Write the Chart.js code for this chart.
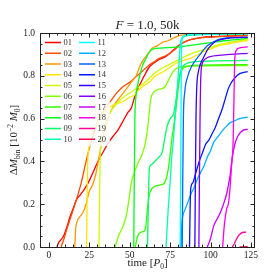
<!DOCTYPE html>
<html lang="en">
<head>
<meta charset="UTF-8">
<title>F = 1.0, 50k</title>
<style>
  html, body { margin: 0; padding: 0; background: #fff; }
  #chart { display: block; }
</style>
</head>
<body>
<canvas id="chart" width="277" height="277"></canvas>
<script src="https://cdn.jsdelivr.net/npm/chart.js"></script>
<script>
// run labels and [time, dM] samples
const names = ['01','02','03','04','05','06','07','08','09','10','11','12','13','14','15','16','17','18','19','20'];

const s01 = [[5,0],[6,0.02],[7,0.03],[9,0.05],[11,0.09],[13,0.14],[15,0.18],[17,0.22],[19,0.24],[22,0.27],[25,0.31],[28,0.36],[31,0.41],[34,0.45],[37,0.49],[40,0.52],[43,0.55],[46,0.59],[49,0.63],[51,0.65],[53,0.7],[55,0.74],[57,0.77],[59,0.8],[62,0.84],[65,0.86],[68,0.875],[71,0.885],[74,0.9],[77,0.92],[80,0.94],[83,0.955],[88,0.97],[95,0.98],[110,0.985],[123,0.988]];
const s02 = [[7.5,0],[9,0.03],[11,0.08],[14,0.15],[17,0.22],[20,0.3],[23,0.4],[26,0.49],[29,0.56],[32,0.61],[35,0.65],[38,0.68],[42,0.72],[46,0.75],[50,0.77],[53,0.79],[56,0.81],[59,0.83],[62,0.85],[65,0.865],[68,0.88],[71,0.89],[75,0.905],[79,0.93],[82,0.95],[86,0.965],[95,0.978],[110,0.985],[123,0.99]];
const s03 = [[16,0],[16.5,0.08],[17.5,0.12],[19,0.14],[21,0.16],[23,0.2],[25,0.26],[27,0.29],[29,0.34],[31,0.42],[33,0.5],[35,0.56],[38,0.63],[41,0.67],[44,0.7],[47,0.73],[50,0.76],[52,0.78],[54,0.8],[56,0.84],[58,0.87],[60,0.89],[62,0.91],[64,0.93],[67,0.94],[70,0.955],[74,0.965],[78,0.98],[82,0.99],[90,0.995],[123,0.995]];
const s04 = [[23.3,0],[23.6,0.2],[24,0.4],[25,0.47],[27,0.53],[30,0.58],[33,0.62],[37,0.65],[42,0.67],[46,0.68],[50,0.7],[53,0.71],[55,0.73],[58,0.75],[62,0.77],[66,0.8],[71,0.82],[75,0.84],[79,0.86],[87,0.88],[95,0.91],[105,0.94],[115,0.955],[123,0.965]];
const s05 = [[31,0],[31.4,0.25],[31.8,0.45],[33,0.52],[35,0.58],[38,0.63],[42,0.67],[46,0.7],[50,0.72],[54,0.74],[58,0.76],[62.5,0.79],[66,0.815],[71,0.84],[75,0.855],[79,0.87],[87,0.9],[95,0.92],[105,0.945],[115,0.96],[123,0.97]];
const s06 = [[41,0],[43,0.05],[46,0.1],[48,0.15],[49.5,0.22],[51,0.3],[53,0.35],[55,0.39],[57.5,0.43],[59.5,0.48],[61,0.55],[62,0.62],[63,0.69],[64.5,0.72],[67,0.735],[70,0.74],[72,0.75],[74,0.78],[76.5,0.815],[79,0.835],[82,0.842],[90,0.845],[123,0.848]];
const s07 = [[53.5,0],[54.5,0.04],[55.5,0.06],[57,0.07],[59,0.075],[60,0.1],[61,0.18],[62,0.24],[63.5,0.27],[66,0.285],[69,0.29],[71.5,0.3],[73,0.33],[74.5,0.4],[76,0.5],[77.5,0.58],[79,0.67],[80,0.74],[81,0.8],[82.5,0.83],[86,0.845],[95,0.85],[123,0.852]];
const s08 = [[52.5,0],[52.8,0.3],[53.2,0.6],[53.8,0.7],[55,0.76],[56.5,0.81],[58,0.85],[60,0.88],[62,0.91],[64,0.925],[70,0.93],[80,0.935],[90,0.945],[100,0.955],[110,0.965],[123,0.975]];
const s09 = [[61,0],[61.4,0.15],[61.8,0.3],[62.2,0.37],[63.5,0.385],[65.5,0.4],[68,0.42],[70,0.44],[71.5,0.5],[73,0.56],[75,0.6],[77,0.62],[78.5,0.68],[80,0.76],[81.5,0.82],[83,0.845],[86,0.86],[95,0.868],[123,0.872]];
const s10 = [[72.5,0],[73.2,0.1],[74,0.2],[75,0.3],[76,0.42],[77,0.5],[78,0.6],[79,0.7],[80,0.8],[80.8,0.9],[81.5,0.96],[83,0.98],[90,0.99],[123,0.995]];
const s11 = [[81.2,0],[81.5,0.3],[81.8,0.7],[82.2,0.95],[83,0.985],[90,0.995],[123,0.998]];
const s12 = [[81.8,0],[82.2,0.1],[82.7,0.14],[84,0.17],[86,0.21],[88,0.25],[90,0.28],[92,0.32],[94,0.35],[96,0.38],[98,0.42],[100,0.45],[102,0.49],[104,0.51],[106,0.53],[108,0.55],[110,0.565],[112,0.58],[115,0.59],[118,0.6],[123,0.607]];
const s13 = [[82.5,0],[82.8,0.3],[83.2,0.6],[84,0.72],[86,0.8],[88,0.84],[90.5,0.87],[93,0.895],[95,0.915],[98,0.94],[101,0.955],[105,0.97],[112,0.978],[123,0.98]];
const s14 = [[87,0],[87.3,0.15],[87.7,0.27],[89,0.3],[91,0.35],[93,0.4],[95,0.44],[97,0.48],[99,0.5],[101,0.53],[103,0.56],[105,0.6],[107,0.64],[109,0.69],[111,0.74],[113,0.77],[115,0.79],[118,0.81],[123,0.82]];
const s15 = [[90.3,0],[90.6,0.3],[91,0.6],[91.5,0.75],[92.5,0.82],[94,0.86],[96,0.89],[98,0.92],[100,0.94],[103,0.96],[107,0.97],[115,0.978],[123,0.98]];
const s16 = [[92.8,0],[93.1,0.3],[93.5,0.6],[94,0.8],[95,0.86],[97,0.88],[100,0.89],[105,0.895],[112,0.9],[123,0.905]];
const s17 = [[98,0],[100,0.04],[102,0.1],[104,0.13],[106,0.16],[108,0.2],[110,0.25],[112,0.33],[113.5,0.42],[115,0.48],[117,0.52],[120,0.545],[123,0.55]];
const s18 = [[107.5,0],[108.5,0.1],[110,0.18],[111,0.2],[112,0.27],[113,0.38],[114,0.5],[114.5,0.7],[115,0.88],[116,0.92],[118,0.93],[123,0.935]];
const s19 = [[113.5,0],[115,0.02],[117,0.05],[119,0.065],[122,0.07]];
const s20 = [[118,0],[123,0.002]];

const series = [s01,s02,s03,s04,s05,s06,s07,s08,s09,s10,s11,s12,s13,s14,s15,s16,s17,s18,s19,s20];
const xTicks = [0, 25, 50, 75, 100, 125];
const yTicks = [0, 0.2, 0.4, 0.6, 0.8, 1.0];

const SERIF = '"Liberation Serif", "DejaVu Serif", serif';

function runColor(i) {
    return 'hsl(' + (i * 18) + ', 100%, 50%)';
}

// draws a run of text pieces (font, offset) starting at x
function drawPieces(ctx, pieces, x, y) {
    pieces.forEach(p => {
        ctx.font = p.font;
        ctx.fillText(p.t, x, y + (p.dy || 0));
        x += ctx.measureText(p.t).width;
    });
}
function piecesWidth(ctx, pieces) {
    let w = 0;
    pieces.forEach(p => { ctx.font = p.font; w += ctx.measureText(p.t).width; });
    return w;
}

const legendPlugin = {
    id: 'gridLegend',
    afterDatasetsDraw(chart) {
        const ctx = chart.ctx;
        const a = chart.chartArea;
        ctx.save();
        ctx.fillStyle = 'rgba(255,255,255,0.8)';
        ctx.fillRect(a.left + 2, a.top + 3, 68, 110);
        ctx.lineWidth = 1.5;
        ctx.font = '8.5px ' + SERIF;
        ctx.textBaseline = 'middle';
        ctx.fillStyle = '#333';
        names.forEach((n, i) => {
            const col = Math.floor(i / 10), row = i % 10;
            const x0 = a.left + 5 + col * 34;
            const y = a.top + 9.5 + row * 10.75;
            ctx.strokeStyle = runColor(i);
            ctx.beginPath();
            ctx.moveTo(x0, y);
            ctx.lineTo(x0 + 16, y);
            ctx.stroke();
            ctx.fillText(n, x0 + 18.5, y + 0.5);
        });
        ctx.restore();
    },
    afterDraw(chart) {
        const ctx = chart.ctx;
        const a = chart.chartArea;
        const xs = chart.scales.x, ys = chart.scales.y;
        ctx.save();
        ctx.strokeStyle = '#222';
        ctx.lineWidth = 1;
        ctx.strokeRect(Math.round(a.left) + 0.5, Math.round(a.top) + 0.5,
            Math.round(a.right - a.left) - 1, Math.round(a.bottom - a.top));
        ctx.beginPath();
        // x ticks, inward on bottom and top
        for (let v = 0; v <= 125; v += 5) {
            const px = Math.round(xs.getPixelForValue(v)) + 0.5;
            const len = v % 25 === 0 ? 4.5 : 2.5;
            ctx.moveTo(px, a.bottom); ctx.lineTo(px, a.bottom - len);
            ctx.moveTo(px, a.top); ctx.lineTo(px, a.top + len);
        }
        // y ticks, inward on left and right
        for (let k = 0; k <= 20; k++) {
            const v = k * 0.05;
            const py = Math.round(ys.getPixelForValue(v)) + 0.5;
            const len = k % 4 === 0 ? 4.5 : 2.5;
            ctx.moveTo(a.left, py); ctx.lineTo(a.left + len, py);
            ctx.moveTo(a.right, py); ctx.lineTo(a.right - len, py);
        }
        ctx.stroke();

        ctx.fillStyle = '#222';
        ctx.textBaseline = 'alphabetic';
        const cx = (a.left + a.right) / 2;

        // title
        const title = [
            { t: 'F', font: 'italic 13px ' + SERIF },
            { t: ' = 1.0, 50k', font: '13px ' + SERIF }
        ];
        drawPieces(ctx, title, cx - piecesWidth(ctx, title) / 2, a.top - 4);

        // x axis label
        const xl = [
            { t: 'time [', font: '11px ' + SERIF },
            { t: 'P', font: 'italic 11px ' + SERIF },
            { t: '0', font: '7.5px ' + SERIF, dy: 2.5 },
            { t: ']', font: '11px ' + SERIF }
        ];
        drawPieces(ctx, xl, cx - piecesWidth(ctx, xl) / 2, 266);

        // y axis label, rotated
        const yl = [
            { t: 'Δ', font: '11px ' + SERIF },
            { t: 'M', font: 'italic 11px ' + SERIF },
            { t: 'bin', font: '7.5px ' + SERIF, dy: 2.5 },
            { t: ' [10', font: '11px ' + SERIF },
            { t: '−2', font: '7.5px ' + SERIF, dy: -4 },
            { t: ' ', font: '11px ' + SERIF },
            { t: 'M', font: 'italic 11px ' + SERIF },
            { t: '0', font: '7.5px ' + SERIF, dy: 2.5 },
            { t: ']', font: '11px ' + SERIF }
        ];
        ctx.translate(17, (a.top + a.bottom) / 2);
        ctx.rotate(-Math.PI / 2);
        drawPieces(ctx, yl, -piecesWidth(ctx, yl) / 2, 0);
        ctx.restore();
    }
};

const datasets = series.map((pts, i) => ({
    label: names[i],
    data: pts.map(p => ({ x: p[0], y: p[1] })),
    borderColor: runColor(i),
    borderWidth: 1.3,
    pointRadius: 0,
    showLine: true,
    fill: false,
    cubicInterpolationMode: 'monotone',
    order: -i
}));

new Chart(document.getElementById('chart'), {
    type: 'scatter',
    data: { datasets: datasets },
    options: {
        responsive: false,
        animation: false,
        layout: { padding: { top: 33, right: 22, left: 0, bottom: 0 } },
        plugins: {
            legend: { display: false },
            title: { display: false },
            tooltip: { enabled: false }
        },
        scales: {
            x: {
                type: 'linear',
                min: -5.5,
                max: 127.5,
                grid: { display: false, drawTicks: false },
                border: { display: false },
                afterBuildTicks: s => { s.ticks = xTicks.map(v => ({ value: v })); },
                afterFit: s => { s.height = 30; },
                ticks: {
                    padding: 3,
                    color: '#222',
                    font: { family: SERIF, size: 9.5 },
                    maxRotation: 0,
                    callback: v => String(v)
                }
            },
            y: {
                type: 'linear',
                min: 0,
                max: 1,
                grid: { display: false, drawTicks: false },
                border: { display: false },
                afterBuildTicks: s => { s.ticks = yTicks.map(v => ({ value: v })); },
                afterFit: s => { s.width = 40; },
                ticks: {
                    padding: 5,
                    color: '#222',
                    font: { family: SERIF, size: 9.5 },
                    callback: v => v.toFixed(1)
                }
            }
        }
    },
    plugins: [legendPlugin]
});
</script>
</body>
</html>
